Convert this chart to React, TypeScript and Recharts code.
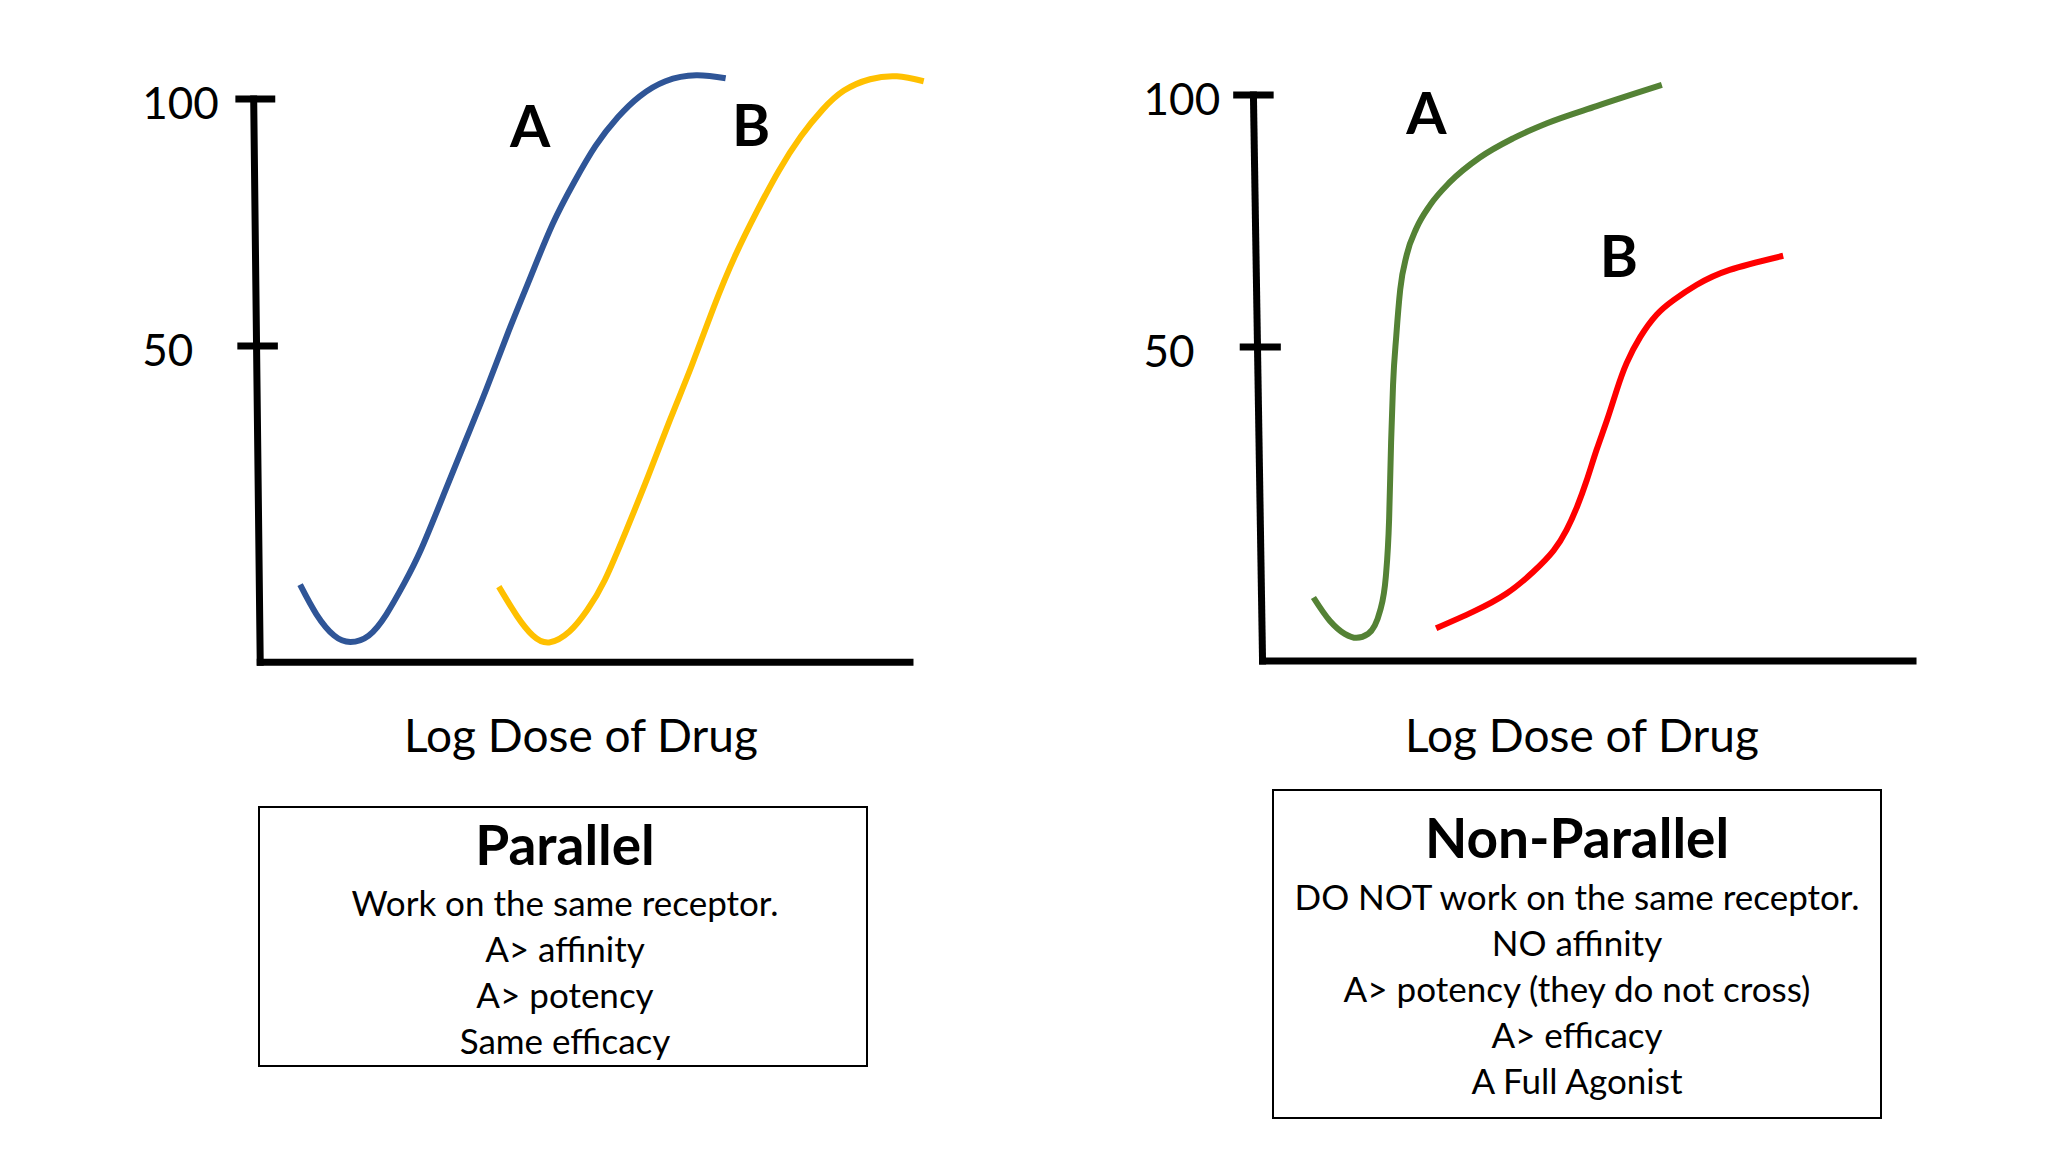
import React from 'react';
import { LineChart, Line, XAxis, YAxis, ReferenceLine, ReferenceDot } from 'recharts';

const FONT = 'Lato, "Open Sans", sans-serif';

// Parallel curves: log dose vs response (%)
const parallelDoseA = [6.7, 9.2, 11.9, 14.4, 17.2, 19.9, 22.6, 25.2, 28.6, 31.9, 35.2, 38.6, 41.9, 45.3, 48.6, 51.9, 55.3, 58.6, 62.6, 67.3, 71.8];
const parallelRespA = [1.7, -4.3, -8.6, -9.9, -8.6, -4.3, 1.9, 8.8, 19.7, 30.5, 41.3, 53, 63.8, 74.6, 83.1, 90.5, 96.3, 100.5, 103.6, 104.8, 104.2];
const parallelDoseB = [37.1, 39.9, 42.3, 44.8, 47.9, 50.6, 53.3, 56.6, 59.9, 63.3, 66.6, 69.9, 73.3, 76.6, 79.9, 83.3, 86.6, 89.9, 93.9, 98, 102.1];
const parallelRespB = [1.3, -4.7, -8.6, -10, -7.8, -3.5, 2.6, 12.7, 23.5, 35.1, 46, 57.6, 68.4, 77.3, 85.4, 92.4, 97.8, 101.7, 104, 104.6, 103.6];

// Non-parallel curves
const nonParallelDoseA = [8.1, 10.6, 12.9, 14.7, 16.5, 18.3, 19.2, 19.7, 20, 20.3, 20.8, 21.4, 22.4, 23.9, 26, 29, 33.6, 38.7, 43.9, 51.5, 61.5];
const nonParallelRespA = [0.3, -4.3, -6.9, -7.7, -6.9, -2.4, 4.5, 15.9, 31, 42.5, 52.3, 61.4, 68.3, 73.6, 78.2, 82.7, 87.6, 91.4, 94.4, 97.8, 102];
const nonParallelDoseB = [26.9, 32.6, 37.7, 41.8, 44.9, 46.9, 48.5, 50, 51.5, 53.1, 54.6, 56.1, 58.2, 60.7, 63.3, 66.8, 71.9, 80.1];
const nonParallelRespB = [-5.8, -2.5, 1.1, 5.4, 9.6, 13.7, 18.3, 23.6, 29.6, 35.5, 41.5, 46.8, 52, 56.4, 59.3, 62.3, 65.3, 68.1];

const yTicks = [50, 100];

// curve labels: [dose, response]
const parallelLabelA = [41.9, 94.5];
const parallelLabelB = [75.7, 94.6];
const nonParallelLabelA = [25.4, 96.3];
const nonParallelLabelB = [54.9, 67.9];

const parallelNotes = ['Work on the same receptor.', 'A> affinity', 'A> potency', 'Same efficacy'];
const nonParallelNotes = ['DO NOT work on the same receptor.', 'NO affinity', 'A> potency (they do not cross)', 'A> efficacy', 'A Full Agonist'];

const toPoints = (xs: number[], ys: number[]) => xs.map((x, i) => ({ x, y: ys[i] }));

interface Curve {
  data: { x: number; y: number }[];
  color: string;
  // the steep agonist curve needs monotone, the rest look better as natural splines
  kind: 'natural' | 'monotone';
}

interface PanelProps {
  left: number;
  width: number;
  margin: { top: number; right: number; bottom: number; left: number };
  yFloor: number;
  labelGap: number;
  spineTop: number;
  spineBottom: number;
  tick100: [number, number];
  tick50: [number, number];
  curves: Curve[];
  labels: { text: string; at: number[] }[];
}

const AXIS = { stroke: '#000', strokeWidth: 7 };

const renderTick = (props: any) => {
  const { x, y, payload } = props;
  return (
    <text x={x} y={y + 3} textAnchor="start" dominantBaseline="central" fontSize={44} fontFamily={FONT} fill="#000">
      {payload.value}
    </text>
  );
};

const DosePanel: React.FC<PanelProps> = ({ left, width, margin, yFloor, labelGap, spineTop, spineBottom, tick100, tick50, curves, labels }) => (
  <div style={{ position: 'absolute', left, top: 0 }}>
    <LineChart width={width} height={700} margin={margin}>
      <XAxis type="number" dataKey="x" domain={[0, 103]} allowDataOverflow hide />
      <YAxis
        type="number"
        domain={[yFloor, 110]}
        allowDataOverflow
        ticks={yTicks}
        axisLine={false}
        tickLine={false}
        tickSize={0}
        tickMargin={labelGap}
        width={120}
        tick={renderTick}
      />
      {/* hand-drawn looking axes */}
      <ReferenceLine segment={[{ x: spineTop, y: 100 }, { x: spineBottom, y: yFloor }]} ifOverflow="visible" {...AXIS} strokeLinecap="square" />
      <ReferenceLine segment={[{ x: spineBottom, y: yFloor }, { x: 100, y: yFloor }]} ifOverflow="visible" {...AXIS} strokeLinecap="square" />
      <ReferenceLine segment={[{ x: tick100[0], y: 100 }, { x: tick100[1], y: 100 }]} ifOverflow="visible" {...AXIS} />
      <ReferenceLine segment={[{ x: tick50[0], y: 50 }, { x: tick50[1], y: 50 }]} ifOverflow="visible" {...AXIS} />
      {curves.map((c, i) => (
        <Line
          key={i}
          data={c.data}
          dataKey="y"
          type={c.kind}
          stroke={c.color}
          strokeWidth={6}
          dot={false}
          activeDot={false}
          isAnimationActive={false}
        />
      ))}
      {labels.map((l) => (
        <ReferenceDot
          key={l.text}
          x={l.at[0]}
          y={l.at[1]}
          r={0}
          fill="none"
          stroke="none"
          label={{ value: l.text, position: 'center', fontSize: 58, fontWeight: 700, fill: '#000', fontFamily: FONT }}
        />
      ))}
    </LineChart>
  </div>
);

const NoteBox: React.FC<{ x: number; y: number; w: number; h: number; title: string; titleBase: number; lines: string[]; firstBase: number; center: number }> = ({ x, y, w, h, title, titleBase, lines, firstBase, center }) => (
  <g fontFamily={FONT} fill="#000" textAnchor="middle">
    <rect x={x} y={y} width={w} height={h} fill="none" stroke="#000" strokeWidth={2} />
    <text x={center} y={titleBase} fontSize={55} fontWeight={700}>{title}</text>
    {lines.map((t, i) => (
      <text key={t} x={center} y={firstBase + i * 46} fontSize={35}>{t}</text>
    ))}
  </g>
);

export default function App() {
  return (
    <div style={{ position: 'absolute', left: 0, top: 0, width: 2048, height: 1152, background: '#fff', overflow: 'hidden' }}>
      <DosePanel
        left={0}
        width={960}
        margin={{ top: 49.6, right: 30.4, bottom: 37.8, left: 136.3 }}
        yFloor={-14}
        labelGap={114}
        spineTop={-0.4}
        spineBottom={0.6}
        tick100={[-3.2, 2.9]}
        tick50={[-2.9, 3.3]}
        curves={[
          { data: toPoints(parallelDoseA, parallelRespA), color: '#2F5597', kind: 'natural' },
          { data: toPoints(parallelDoseB, parallelRespB), color: '#FFC000', kind: 'natural' },
        ]}
        labels={[
          { text: 'A', at: parallelLabelA },
          { text: 'B', at: parallelLabelB },
        ]}
      />
      <DosePanel
        left={1000}
        width={980}
        margin={{ top: 44.6, right: 47.4, bottom: 39, left: 140.6 }}
        yFloor={-12.3}
        labelGap={117}
        spineTop={-1.1}
        spineBottom={0.3}
        tick100={[-4.2, 2.0]}
        tick50={[-3.2, 3.1]}
        curves={[
          { data: toPoints(nonParallelDoseA, nonParallelRespA), color: '#548235', kind: 'monotone' },
          { data: toPoints(nonParallelDoseB, nonParallelRespB), color: '#FF0000', kind: 'natural' },
        ]}
        labels={[
          { text: 'A', at: nonParallelLabelA },
          { text: 'B', at: nonParallelLabelB },
        ]}
      />
      <svg width={2048} height={1152} style={{ position: 'absolute', left: 0, top: 0, pointerEvents: 'none' }}>
        <g fontFamily={FONT} fill="#000" textAnchor="middle" fontSize={46}>
          <text x={581} y={752}>Log Dose of Drug</text>
          <text x={1582} y={752}>Log Dose of Drug</text>
        </g>
        <NoteBox x={259} y={807} w={608} h={259} title="Parallel" titleBase={865} lines={parallelNotes} firstBase={916} center={565} />
        <NoteBox x={1273} y={790} w={608} h={328} title="Non-Parallel" titleBase={858} lines={nonParallelNotes} firstBase={910} center={1577} />
      </svg>
    </div>
  );
}
